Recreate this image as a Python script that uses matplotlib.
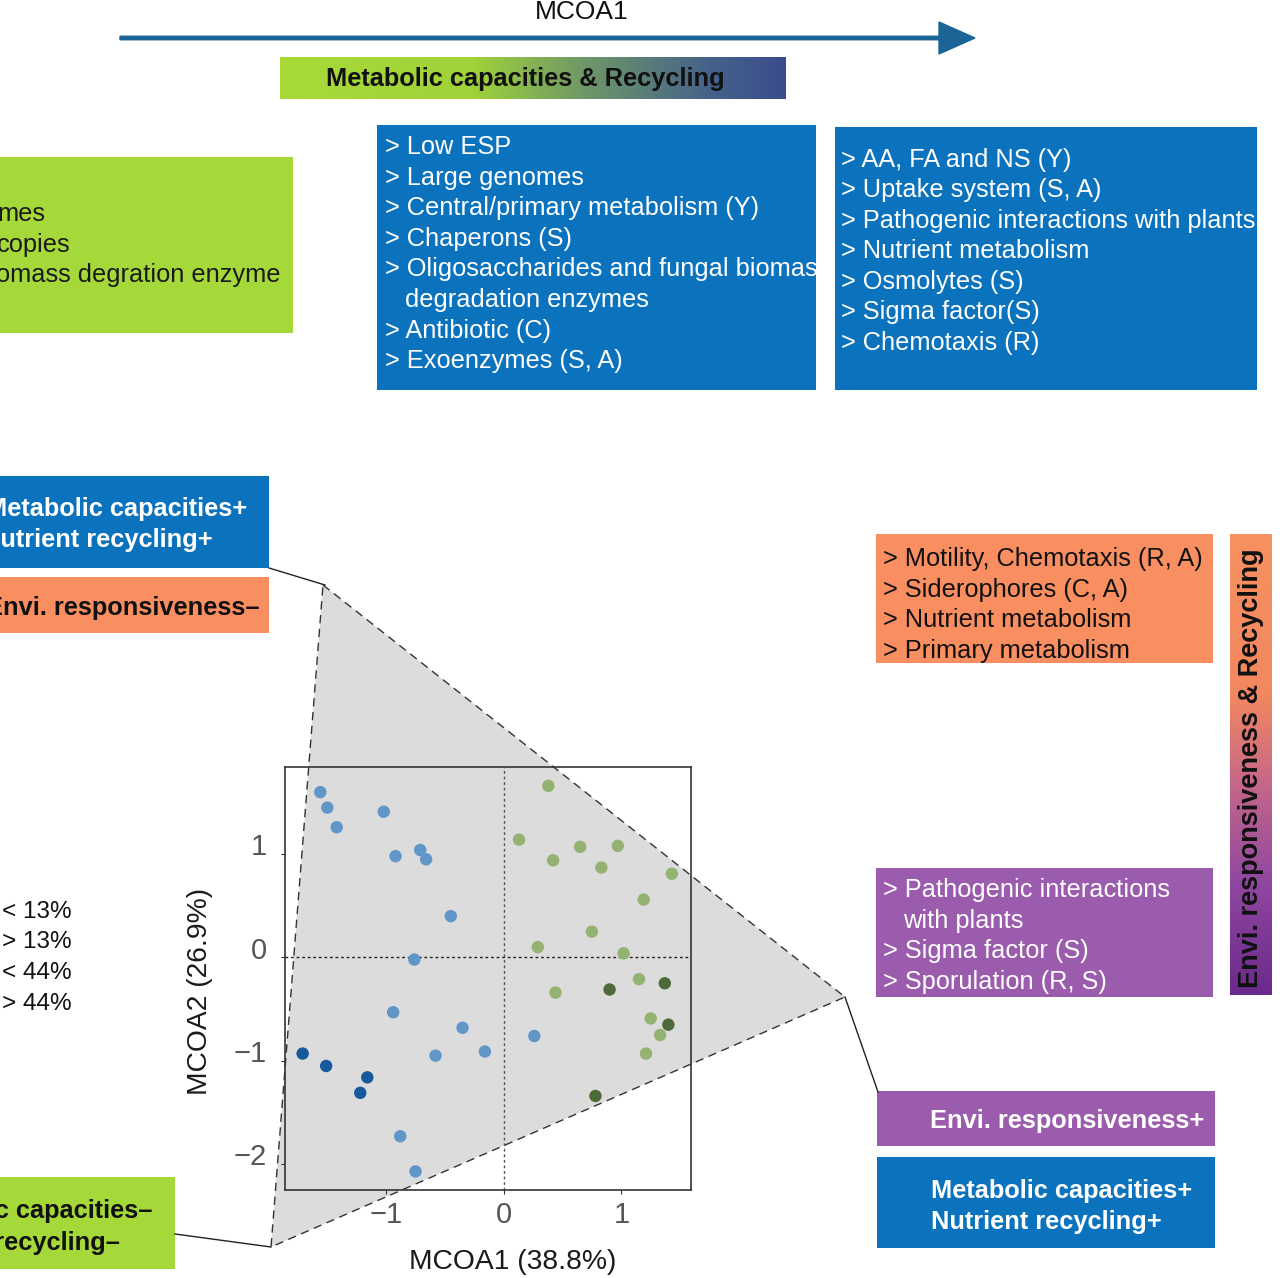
import numpy as np
import matplotlib
matplotlib.use('Agg')
import matplotlib.pyplot as plt
from matplotlib.patches import Rectangle, Polygon, FancyArrow
from matplotlib.colors import LinearSegmentedColormap
from matplotlib.transforms import Bbox, TransformedBbox, ScaledTranslation

plt.rcParams['font.family'] = ['Liberation Sans', 'DejaVu Sans']

# MCOA scores
light_blue_x = [-1.56, -1.50, -1.42, -1.02, -0.92, -0.71, -0.66, -0.45, -0.76, -0.94, -0.35, -0.58, -0.16, 0.26, -0.88, -0.75]
light_blue_y = [1.60, 1.45, 1.26, 1.41, 0.98, 1.04, 0.95, 0.40, -0.02, -0.53, -0.68, -0.95, -0.91, -0.76, -1.73, -2.07]
dark_blue_x = [-1.71, -1.51, -1.16, -1.22]
dark_blue_y = [-0.93, -1.05, -1.16, -1.31]
light_green_x = [0.38, 0.13, 0.65, 0.97, 0.42, 0.83, 1.43, 1.19, 0.75, 0.29, 1.02, 1.15, 0.44, 1.25, 1.33, 1.21]
light_green_y = [1.66, 1.14, 1.07, 1.08, 0.94, 0.87, 0.81, 0.56, 0.25, 0.10, 0.04, -0.21, -0.34, -0.59, -0.75, -0.93]
dark_green_x = [0.90, 1.37, 1.40, 0.78]
dark_green_y = [-0.31, -0.25, -0.65, -1.34]

x_ticks = [-1, 0, 1]
y_ticks = [-2, -1, 0, 1]

# text of the boxes (lines starting with two spaces are indented)
green_top_lines = ['mes', 'copies', 'omass degration enzyme']
blue1_lines = ['> Low ESP', '> Large genomes', '> Central/primary metabolism (Y)', '> Chaperons (S)',
               '> Oligosaccharides and fungal biomass', '  degradation enzymes', '> Antibiotic (C)',
               '> Exoenzymes (S, A)']
blue2_lines = ['> AA, FA and NS (Y)', '> Uptake system (S, A)', '> Pathogenic interactions with plants',
               '> Nutrient metabolism', '> Osmolytes (S)', '> Sigma factor(S)', '> Chemotaxis (R)']
orange_lines = ['> Motility, Chemotaxis (R, A)', '> Siderophores (C, A)', '> Nutrient metabolism',
                '> Primary metabolism']
purple_lines = ['> Pathogenic interactions', '  with plants', '> Sigma factor (S)', '> Sporulation (R, S)']
legend_labels = ['< 13%', '> 13%', '< 44%', '> 44%']

BLUE = '#0b72bd'
GREEN = '#a5d93a'
ORANGE = '#f98e60'
PURPLE = '#9b5cad'
FS = 18.3

W, H = 1280, 1278
fig = plt.figure(figsize=(W / 100, H / 100), dpi=100)
bg = fig.add_axes([0, 0, 1, 1])
bg.set_xlim(0, W)
bg.set_ylim(H, 0)
bg.axis('off')


def box(x0, y0, x1, y1, color):
    r = Rectangle((x0, y0), x1 - x0, y1 - y0, facecolor=color, edgecolor='none', zorder=1)
    bg.add_patch(r)
    return (x0, y0, x1, y1)


def write_lines(x, y0, step, lines, color, clip=None, **kw):
    for i, s in enumerate(lines):
        xx = x + 20 if s.startswith('  ') else x
        t = bg.text(xx, y0 + i * step, s.strip(), color=color, fontsize=FS, va='center', ha='left',
                    zorder=3, **kw)
        if clip is not None:
            bb = Bbox.from_extents(clip[0], clip[1], clip[2], clip[3])
            t.set_clip_box(TransformedBbox(bb, bg.transData))
            t.set_clip_on(True)


# top arrow + gradient title
bg.text(582, 12, 'MCOA1', fontsize=19, ha='center', va='center', color='#111')
bg.add_patch(FancyArrow(120, 38, 855, 0, width=3.5, head_width=32, head_length=36,
                        length_includes_head=True, color='#1a6496', zorder=2))
h_cmap = LinearSegmentedColormap.from_list('h', [(0, '#a8da38'), (0.38, '#a0d23a'), (0.6, '#6f9867'),
                                                  (0.85, '#46628a'), (1, '#3a4d8c')])
bg.imshow(np.linspace(0, 1, 256).reshape(1, -1), cmap=h_cmap, extent=(280, 786, 99, 57),
          aspect='auto', zorder=1)
bg.text(525, 79, 'Metabolic capacities & Recycling', fontsize=FS, fontweight='bold',
        ha='center', va='center', color='#111', zorder=3)

# top boxes
box(0, 157, 293, 333, GREEN)
for s, xr, y in zip(green_top_lines, [45, 71, 280], [214, 245, 275]):
    bg.text(xr, y, s, fontsize=FS, ha='right', va='center', color='#1a1a1a', zorder=3)
c1 = box(377, 125, 816, 390, BLUE)
write_lines(385, 147, 30.6, blue1_lines, 'white', clip=c1)
c2 = box(835, 127, 1257, 390, BLUE)
write_lines(841, 160, 30.5, blue2_lines, 'white', clip=c2)

# left boxes
box(0, 476, 269, 568, BLUE)
bg.text(247, 509, 'Metabolic capacities+', fontsize=FS, fontweight='bold', ha='right', va='center',
        color='white', zorder=3)
bg.text(213, 540, 'Nutrient recycling+', fontsize=FS, fontweight='bold', ha='right', va='center',
        color='white', zorder=3)
box(0, 577, 269, 633, ORANGE)
bg.text(259, 608, 'Envi. responsiveness–', fontsize=FS, fontweight='bold', ha='right', va='center',
        color='#111', zorder=3)
box(0, 1177, 175, 1269, GREEN)
bg.text(152, 1211, 'Metabolic capacities–', fontsize=FS, fontweight='bold', ha='right', va='center',
        color='#111', zorder=3)
bg.text(120, 1243, 'Nutrient recycling–', fontsize=FS, fontweight='bold', ha='right', va='center',
        color='#111', zorder=3)

for i, s in enumerate(legend_labels):
    bg.text(2, 912 + i * 30.5, s, fontsize=17.5, ha='left', va='center', color='#111')

# right boxes
box(876, 534, 1213, 663, ORANGE)
write_lines(883, 559, 30.6, orange_lines, '#111')
box(876, 868, 1213, 997, PURPLE)
write_lines(883, 890, 30.6, purple_lines, 'white')
box(877, 1091, 1215, 1146, PURPLE)
bg.text(930, 1121, 'Envi. responsiveness+', fontsize=FS, fontweight='bold', ha='left', va='center',
        color='white', zorder=3)
box(877, 1157, 1215, 1248, BLUE)
bg.text(931, 1191, 'Metabolic capacities+', fontsize=FS, fontweight='bold', ha='left', va='center',
        color='white', zorder=3)
bg.text(931, 1222, 'Nutrient recycling+', fontsize=FS, fontweight='bold', ha='left', va='center',
        color='white', zorder=3)

v_cmap = LinearSegmentedColormap.from_list('v', [(0, '#f8905f'), (0.35, '#f3875f'), (0.55, '#c4668a'),
                                                  (0.75, '#9148a0'), (1, '#6a2a8c')])
bg.imshow(np.linspace(0, 1, 256).reshape(-1, 1), cmap=v_cmap, extent=(1230, 1272, 995, 534),
          aspect='auto', origin='upper', zorder=1)
bg.text(1251, 768, 'Envi. responsiveness & Recycling', fontsize=19.5, fontweight='bold', rotation=90,
        ha='center', va='center', color='#111', zorder=3)

# projection triangle and connector lines
bg.add_patch(Polygon([(323, 585), (845, 997), (271, 1247)], closed=True, facecolor='#dcdcdc',
                     edgecolor='#333333', linestyle=(0, (6, 4)), linewidth=1, zorder=1))
bg.plot([269, 325], [568, 585], color='#222', lw=1)
bg.plot([845, 878], [997, 1092], color='#222', lw=1)
bg.plot([175, 271], [1234, 1247], color='#222', lw=1)

bg.text(513, 1262, 'MCOA1 (38.8%)', fontsize=20.3, ha='center', va='center', color='#1a1a1a')
bg.text(200, 991, 'MCOA2 (26.9%)', fontsize=20.3, rotation=90, ha='center', va='center', color='#1a1a1a')
bg.set_xlim(0, W)
bg.set_ylim(H, 0)

# scatter panel
ax = fig.add_axes([285 / W, 1 - 1190 / H, (690.7 - 285) / W, (1190 - 767.3) / H])
ax.patch.set_alpha(0)
ax.axhline(0, color='#222', ls=(0, (2, 2)), lw=1, zorder=1)
ax.axvline(0, color='#555', ls=(0, (2, 2)), lw=1, zorder=1)
ax.scatter(light_blue_x, light_blue_y, s=80, color='#6196c8', edgecolor='none', zorder=3)
ax.scatter(dark_blue_x, dark_blue_y, s=80, color='#17599c', edgecolor='none', zorder=3)
ax.scatter(light_green_x, light_green_y, s=80, color='#94b271', edgecolor='none', zorder=3)
ax.scatter(dark_green_x, dark_green_y, s=80, color='#4d6a3b', edgecolor='none', zorder=3)
ax.set_xlim(-1.86, 1.59)
ax.set_ylim(-2.25, 1.84)
ax.set_xticks(x_ticks)
ax.set_yticks(y_ticks)
ax.tick_params(axis='both', length=3, color='#333', labelsize=21, labelcolor='#555')
ax.tick_params(axis='y', pad=10)
ax.tick_params(axis='x', pad=5)
shift_up = ScaledTranslation(0, 7 / 72, fig.dpi_scale_trans)
for lab in ax.get_yticklabels():
    lab.set_transform(lab.get_transform() + shift_up)
for sp in ax.spines.values():
    sp.set_color('#333')
    sp.set_linewidth(1.2)

fig.savefig('out.png', dpi=100)
